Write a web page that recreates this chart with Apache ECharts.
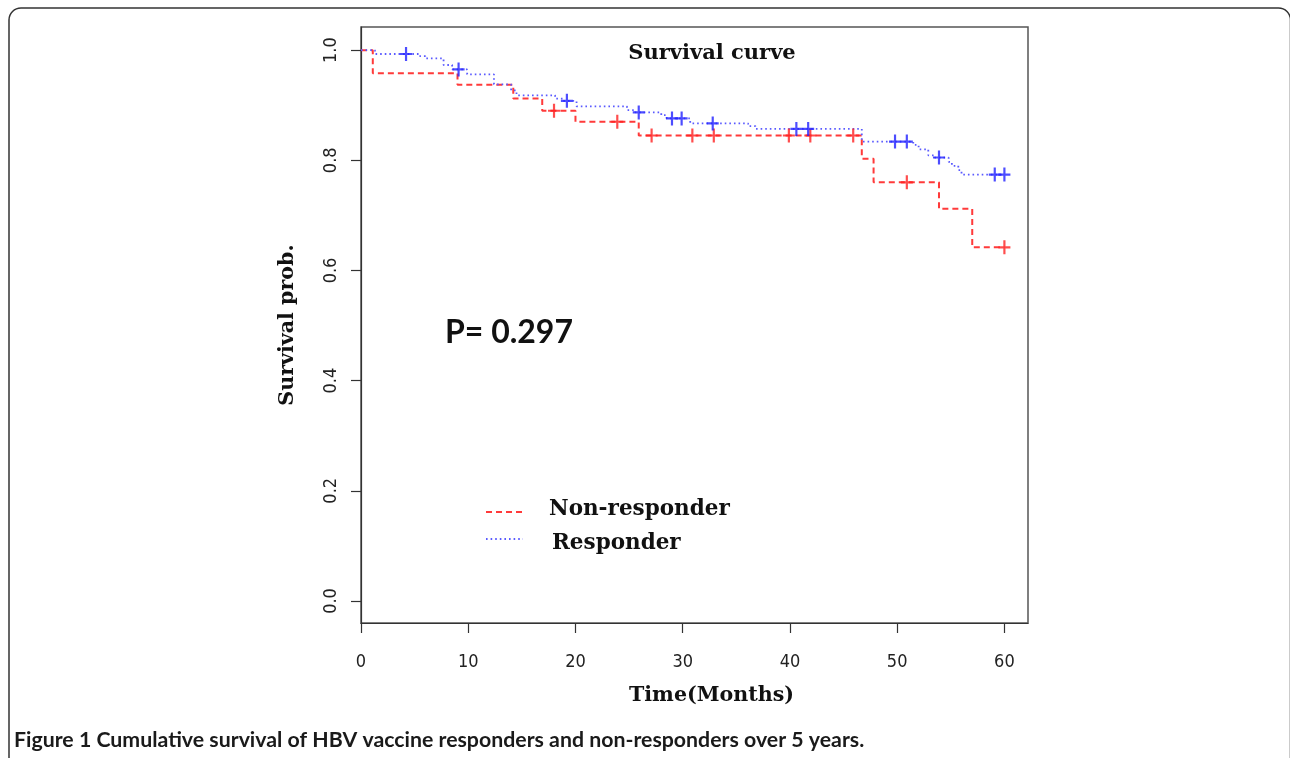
<!DOCTYPE html>
<html><head><meta charset="utf-8">
<script src="https://cdn.jsdelivr.net/npm/echarts@6/dist/echarts.min.js"></script>
<style>html,body{margin:0;padding:0;background:#fff}#c{width:1290px;height:758px}</style>
</head><body><div id="c"></div>
<script>
// ---- data ----
const nonRespTime   = [0, 1.1, 9.0, 14.2, 16.9, 20.0, 25.9, 46.7, 47.8, 53.9, 57.0, 60];
const nonRespSurv   = [1.0, 0.958, 0.937, 0.912, 0.890, 0.870, 0.845, 0.803, 0.760, 0.712, 0.642, 0.642];
const nonRespCensor = [18.0, 23.9, 27.1, 30.9, 32.9, 39.9, 41.9, 45.9, 50.9, 60.0];

const respTime   = [0, 1.3, 5.5, 6.0, 7.7, 8.5, 9.9, 12.4, 14.0, 14.5, 18.1, 18.8, 20.1, 24.8, 25.6, 28.0, 28.5, 30.7, 36.1, 36.8, 46.7, 51.5, 52.0, 52.9, 53.5, 54.8, 55.1, 55.7, 56.0, 60];
const respSurv   = [1.0, 0.993, 0.989, 0.985, 0.973, 0.965, 0.956, 0.938, 0.927, 0.918, 0.912, 0.908, 0.898, 0.891, 0.887, 0.882, 0.876, 0.867, 0.862, 0.857, 0.834, 0.828, 0.820, 0.809, 0.805, 0.797, 0.790, 0.782, 0.774, 0.774];
const respCensor = [4.2, 9.1, 19.2, 25.9, 29.0, 29.9, 32.8, 40.6, 41.7, 49.8, 50.9, 53.9, 59.1, 60.0];

const xTicks = [0, 10, 20, 30, 40, 50, 60];
const yTicks = [0, 0.2, 0.4, 0.6, 0.8, 1.0];
const seriesNames = ['Non-responder', 'Responder'];
const titleText = 'Survival curve';
const pValueText = 'P= 0.297';
const xName = 'Time(Months)';
const yName = 'Survival prob.';
const captionText = 'Figure 1 Cumulative survival of HBV vaccine responders and non-responders over 5 years.';

// ---- helpers ----
function stepAt(times, surv, t) {
  let s = surv[0];
  for (let i = 0; i < times.length; i++) if (times[i] <= t) s = surv[i];
  return s;
}
const zip = (a, b) => a.map((v, i) => [v, b[i]]);
const censorPts = (c, times, surv) => c.map(t => [t, stepAt(times, surv, t)]);

const PLUS = 'path://M-1,-6.5H1V6.5H-1Z M-5.5,-1H5.5V1H-5.5Z';
const RED = '#ff2020', BLUE = '#2020ff';
const SERIF = '"DejaVu Serif", "Liberation Serif", serif';
const NARROW = '"Liberation Sans Narrow", "DejaVu Sans Condensed", "Liberation Sans", Arial, sans-serif';

const chart = echarts.init(document.getElementById('c'), null, {renderer: 'canvas'});
chart.setOption({
  animation: false,
  backgroundColor: '#ffffff',
  grid: {left: 361, right: 262, top: 27, bottom: 135, show: true, borderColor: '#555', borderWidth: 1.5},
  xAxis: {
    type: 'value', min: 0, max: 62.2,
    axisLine: {show: true, onZero: false, lineStyle: {color: '#333', width: 1.2}},
    axisTick: {show: true, length: 10, customValues: xTicks, lineStyle: {color: '#333', width: 1.2}},
    axisLabel: {customValues: xTicks, margin: 30, fontSize: 18, fontFamily: NARROW, color: '#222'},
    splitLine: {show: false},
    name: xName, nameLocation: 'middle', nameGap: 62,
    nameTextStyle: {fontFamily: SERIF, fontWeight: 'bold', fontSize: 20.6, color: '#111', padding: [0, 0, 0, 34]}
  },
  yAxis: {
    type: 'value', min: -0.04, max: 1.042,
    axisLine: {show: true, onZero: false, lineStyle: {color: '#333', width: 1.2}},
    axisTick: {show: true, length: 10, customValues: yTicks, lineStyle: {color: '#333', width: 1.2}},
    axisLabel: {customValues: yTicks, rotate: 90, margin: 21, fontSize: 18, fontFamily: NARROW, color: '#222',
      formatter: v => Number(v).toFixed(1)},
    splitLine: {show: false},
    name: yName, nameLocation: 'middle', nameRotate: 90, nameGap: 63,
    nameTextStyle: {fontFamily: SERIF, fontWeight: 'bold', fontSize: 20.6, color: '#111'}
  },
  series: [
    {name: seriesNames[0], type: 'line', step: 'end', showSymbol: false, z: 2,
     data: zip(nonRespTime, nonRespSurv),
     lineStyle: {color: '#ff3a3a', width: 2, type: [6, 4]}},
    {name: seriesNames[1], type: 'line', step: 'end', showSymbol: false, z: 3,
     data: zip(respTime, respSurv),
     lineStyle: {color: '#5a5aff', width: 1.8, type: [1.6, 3]}},
    {name: seriesNames[0] + ' censored', type: 'scatter', symbol: PLUS, symbolSize: [12, 14], z: 4,
     data: censorPts(nonRespCensor, nonRespTime, nonRespSurv), itemStyle: {color: RED}},
    {name: seriesNames[1] + ' censored', type: 'scatter', symbol: PLUS, symbolSize: [12, 14], z: 5,
     data: censorPts(respCensor, respTime, respSurv), itemStyle: {color: BLUE}}
  ],
  graphic: [
    {type: 'rect', shape: {x: 9, y: 8, width: 1281.5, height: 780, r: 12}, silent: true,
     style: {fill: 'none', stroke: '#333', lineWidth: 1.5}},
    {type: 'text', x: 712, y: 54, silent: true,
     style: {text: titleText, font: 'bold 21px ' + SERIF, fill: '#111', textAlign: 'center', textVerticalAlign: 'middle'}},
    {type: 'text', x: 445, y: 333, silent: true,
     style: {text: pValueText, font: 'bold 32px Lato, "Open Sans", sans-serif', fill: '#111', textAlign: 'left', textVerticalAlign: 'middle'}},
    {type: 'line', silent: true, shape: {x1: 486, y1: 512, x2: 523, y2: 512},
     style: {stroke: '#ff3a3a', lineWidth: 2, lineDash: [6, 4]}},
    {type: 'line', silent: true, shape: {x1: 486, y1: 539, x2: 523, y2: 539},
     style: {stroke: '#5a5aff', lineWidth: 1.8, lineDash: [1.6, 3]}},
    {type: 'text', x: 549, y: 509, silent: true,
     style: {text: seriesNames[0], font: 'bold 21.5px ' + SERIF, fill: '#111', textAlign: 'left', textVerticalAlign: 'middle'}},
    {type: 'text', x: 552, y: 543, silent: true,
     style: {text: seriesNames[1], font: 'bold 21.5px ' + SERIF, fill: '#111', textAlign: 'left', textVerticalAlign: 'middle'}},
    {type: 'text', x: 14, y: 740, silent: true,
     style: {text: captionText, font: 'bold 21.3px Lato, "Open Sans", sans-serif', fill: '#1a1a1a',
             textAlign: 'left', textVerticalAlign: 'middle'}}
  ]
});
</script></body></html>
